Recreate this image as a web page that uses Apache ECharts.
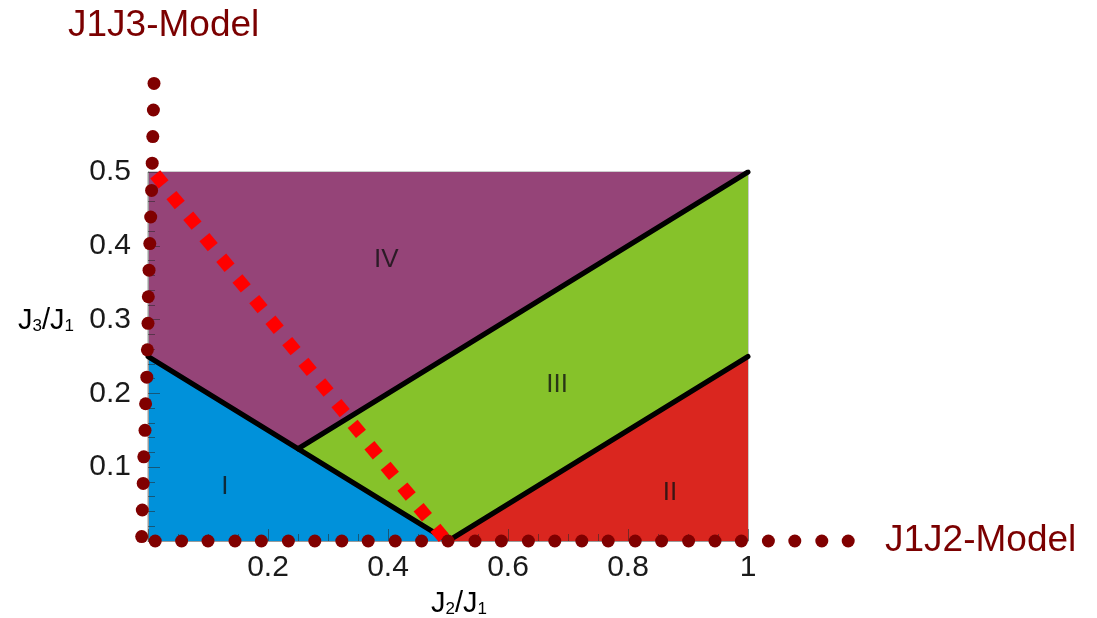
<!DOCTYPE html>
<html>
<head>
<meta charset="utf-8">
<script src="https://cdn.jsdelivr.net/npm/echarts@6/dist/echarts.min.js"></script>
<style>
html,body{margin:0;padding:0;background:#fff;}
#chart{width:1097px;height:618px;}
</style>
</head>
<body>
<div id="chart"></div>
<script>
// ---- data ----
const xTickLabels = ['', '0.2', '0.4', '0.6', '0.8', '1'];
const yTickLabels = ['', '0.1', '0.2', '0.3', '0.4', '0.5'];

const regionNames = ['I', 'II', 'III', 'IV'];
const regionI   = [[0, 0], [0, 0.25], [0.5, 0]];
const regionII  = [[0.5, 0], [1, 0], [1, 0.25]];
const regionIII = [[0.25, 0.125], [0.5, 0], [1, 0.25], [1, 0.5]];
const regionIV  = [[0, 0.25], [0.25, 0.125], [1, 0.5], [0, 0.5]];

const boundaryA = [[0, 0.25], [0.5, 0]];
const boundaryB = [[0.25, 0.125], [1, 0.5]];
const boundaryC = [[0.5, 0], [1, 0.25]];

const regionLabelPos = [[0.128, 0.073], [0.870, 0.065], [0.682, 0.211], [0.397, 0.381]];

// red dashed (diamond) path from (0,0.5) to (0.5,0)
const diamondX = [0.019, 0.046, 0.074, 0.101, 0.129, 0.156, 0.184, 0.211, 0.239, 0.266, 0.294, 0.321, 0.348, 0.376, 0.403, 0.431, 0.458, 0.486];
const diamondY = [0.490, 0.462, 0.434, 0.405, 0.377, 0.349, 0.321, 0.293, 0.264, 0.236, 0.208, 0.180, 0.152, 0.123, 0.095, 0.067, 0.039, 0.011];

// dark red dotted J1J3 axis (vertical)
const j13X = [0.010, 0.009, 0.008, 0.007, 0.006, 0.0045, 0.003, 0.0017, 0.0005, 0.0, -0.001, -0.002, -0.004, -0.005, -0.007, -0.008, -0.0095, -0.0105];
const j13Y = [0.620, 0.584, 0.548, 0.512, 0.475, 0.439, 0.403, 0.367, 0.331, 0.295, 0.259, 0.222, 0.186, 0.150, 0.114, 0.078, 0.042, 0.006];

// dark red dotted J1J2 axis (horizontal)
const j12X = [0.012, 0.056, 0.100, 0.145, 0.189, 0.234, 0.278, 0.323, 0.367, 0.412, 0.456, 0.500, 0.545, 0.589, 0.634, 0.678, 0.723, 0.767, 0.812, 0.856, 0.901, 0.945, 0.989, 1.034, 1.078, 1.123, 1.167];
const j12Y = [0, 0, 0, 0, 0, 0, 0, 0, 0, 0, 0, 0, 0, 0, 0, 0, 0, 0, 0, 0, 0, 0, 0, 0, 0, 0, 0];

// ---- chart ----
const FONT = "'Liberation Sans', Arial, sans-serif";
const regionColors = ['#0091da', '#da261f', '#86c22a', '#954478'];
const regions = [regionI, regionII, regionIII, regionIV];

const chart = echarts.init(document.getElementById('chart'), null, {renderer: 'canvas'});

const zip = (xs, ys) => xs.map((x, i) => [x, ys[i]]);

const subRich = {
  a: {fontSize: 29, fontFamily: FONT, color: '#1a1a1a', lineHeight: 30, verticalAlign: 'bottom'},
  s: {fontSize: 17, fontFamily: FONT, color: '#1a1a1a', lineHeight: 14, verticalAlign: 'bottom'}
};

const tickStyle = {color: 'rgba(40,40,40,0.55)', width: 1};

const option = {
  animation: false,
  backgroundColor: '#ffffff',
  grid: {left: 148, right: 349, top: 172, bottom: 77, show: true, borderColor: '#9a9a9a', borderWidth: 1, backgroundColor: 'transparent'},
  xAxis: {
    type: 'value', min: 0, max: 1, interval: 0.2, z: 2,
    axisLine: {show: true, lineStyle: {color: '#9a9a9a', width: 1}},
    axisTick: {show: true, inside: true, length: 12, lineStyle: tickStyle},
    minorTick: {show: true, splitNumber: 4, length: 7, lineStyle: tickStyle},
    splitLine: {show: false},
    axisLabel: {
      margin: 12, fontSize: 30, color: '#1a1a1a', fontFamily: FONT,
      formatter: (v, i) => xTickLabels[i]
    }
  },
  yAxis: {
    type: 'value', min: 0, max: 0.5, interval: 0.1, z: 2,
    axisLine: {show: true, lineStyle: {color: '#9a9a9a', width: 1}},
    axisTick: {show: true, inside: true, length: 12, lineStyle: tickStyle},
    minorTick: {show: true, splitNumber: 5, length: 7, lineStyle: tickStyle},
    splitLine: {show: false},
    axisLabel: {
      margin: 17, fontSize: 30, color: '#1a1a1a', fontFamily: FONT,
      formatter: (v, i) => yTickLabels[i]
    }
  },
  series: [
    {
      type: 'custom',
      z: 1,
      data: regionNames.map((n, i) => ({name: n, value: [i]})),
      renderItem: function (params, api) {
        const idx = api.value(0);
        const pts = regions[idx].map(p => api.coord(p));
        return {
          type: 'polygon',
          shape: {points: pts},
          style: {fill: regionColors[idx], stroke: null}
        };
      },
      silent: true
    },
    ...[boundaryA, boundaryB, boundaryC].map(b => ({
      type: 'line', z: 3, data: b, symbol: 'none', silent: true,
      lineStyle: {color: '#000', width: 5, cap: 'round'}
    })),
    {
      type: 'scatter', z: 4, silent: true,
      data: regionNames.map((n, i) => ({name: n, value: regionLabelPos[i]})),
      symbolSize: 0,
      label: {show: true, position: 'inside', formatter: '{b}', fontSize: 26, color: '#111', fontFamily: FONT}
    },
    {
      type: 'scatter', z: 5, silent: true, clip: false,
      data: zip(diamondX, diamondY),
      symbol: 'rect', symbolSize: [13, 13], symbolRotate: 40,
      itemStyle: {color: '#ff0000', opacity: 1}
    },
    {
      type: 'scatter', z: 6, silent: true, clip: false,
      data: zip(j13X, j13Y),
      symbol: 'circle', symbolSize: 13,
      itemStyle: {color: '#800000', opacity: 1}
    },
    {
      type: 'scatter', z: 6, silent: true, clip: false,
      data: zip(j12X, j12Y),
      symbol: 'circle', symbolSize: 13,
      itemStyle: {color: '#800000', opacity: 1}
    }
  ],
  graphic: [
    {type: 'text', x: 68, y: 26, style: {text: 'J1J3-Model', font: "37px " + FONT, fill: '#7b0000', textVerticalAlign: 'middle'}},
    {type: 'text', x: 885, y: 541, style: {text: 'J1J2-Model', font: "37px " + FONT, fill: '#7b0000', textVerticalAlign: 'middle'}},
    {type: 'text', x: 18, y: 320, style: {text: '{a|J}{s|3}{a|/J}{s|1}', textVerticalAlign: 'middle', rich: subRich}},
    {type: 'text', x: 431, y: 603, style: {text: '{a|J}{s|2}{a|/J}{s|1}', textVerticalAlign: 'middle', rich: subRich}}
  ]
};
chart.setOption(option);
</script>
</body>
</html>
